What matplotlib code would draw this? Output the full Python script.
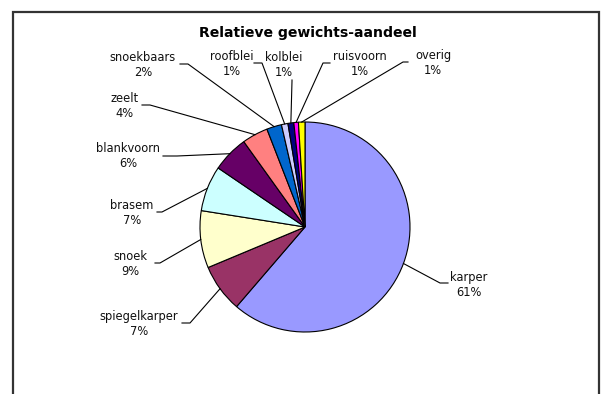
import numpy as np
import matplotlib
matplotlib.use("Agg")
import matplotlib.pyplot as plt
from matplotlib.patches import Rectangle
from matplotlib.lines import Line2D

# Weight share per fish species (percent)
species = ["karper", "spiegelkarper", "snoek", "brasem", "blankvoorn", "zeelt",
           "snoekbaars", "roofblei", "kolblei", "ruisvoorn", "overig"]
share = [61.3, 7.4, 8.8, 7.0, 5.6, 4.0, 2.3, 1.0, 0.9, 0.7, 1.0]
colors = ["#9999FF", "#993366", "#FFFFCC", "#CCFFFF", "#660066", "#FF8080",
          "#0066CC", "#CCCCFF", "#000080", "#FF00FF", "#FFFF00"]
title = "Relatieve gewichts-aandeel"

W, H = 605, 394
fig = plt.figure(figsize=(W / 100, H / 100), dpi=100)
fig.patch.set_facecolor("white")


def fpos(x, y):
    """Pixel position measured from the top-left corner -> figure fraction."""
    return x / W, 1 - y / H


# Chart frame
fig.add_artist(Rectangle(fpos(13, 420), (599 - 13) / W, (420 - 12) / H,
                         transform=fig.transFigure, fill=False,
                         edgecolor="#333333", linewidth=1.6, clip_on=False))

# Pie area: centre (305, 227) px, radius 105 px
cx, cy, r = 305, 227, 105
ax = fig.add_axes([(cx - r) / W, (H - cy - r) / H, 2 * r / W, 2 * r / H])
wedges, _ = ax.pie(share, colors=colors, startangle=90, counterclock=False,
                   wedgeprops=dict(edgecolor="black", linewidth=0.8))
ax.set_xlim(-1, 1)
ax.set_ylim(-1, 1)
ax.axis("off")

fig.text(*fpos(308, 33), title, ha="center", va="center",
         fontsize=10.1, fontweight="bold", color="black")

# Label layout: text block centre, then leader start and kink (px, top-left origin)
label_xy = [(469, 285), (139, 324), (130, 264), (132, 213), (128, 156), (125, 106),
            (143, 65), (232, 64), (284, 65), (360, 64), (433, 63)]
leader = [((448, 283), (440, 283)), ((182, 323), (190, 323)), ((155, 263), (160, 263)),
          ((157, 212), (162, 212)), ((163, 156), (177, 156)), ((142, 105), (150, 105)),
          ((180, 64), (188, 64)), ((254, 63), (262, 63)), ((292, 80), (292, 81)),
          ((330, 63), (323, 63)), ((408, 62), (403, 62))]

for w, name, val, (tx, ty), (p0, p1) in zip(wedges, species, share, label_xy, leader):
    fig.text(*fpos(tx, ty), f"{name}\n{round(val):d}%", ha="center", va="center",
             fontsize=8.3, color="#111111", linespacing=1.12)
    mid = np.deg2rad((w.theta1 + w.theta2) / 2)
    ex, ey = ax.transData.transform((np.cos(mid), np.sin(mid)))
    ef = fig.transFigure.inverted().transform((ex, ey))
    a, b = fpos(*p0), fpos(*p1)
    fig.add_artist(Line2D([a[0], b[0], ef[0]], [a[1], b[1], ef[1]],
                          transform=fig.transFigure, color="black", linewidth=0.8))

fig.savefig("out.png", dpi=100, facecolor="white")
